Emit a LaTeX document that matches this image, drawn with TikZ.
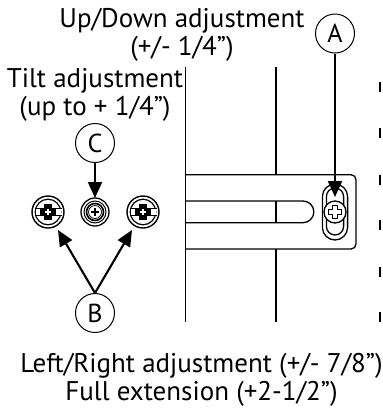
\documentclass[tikz,border=0pt]{standalone}
\usepackage{fontspec}
\setmainfont{PT Sans}
\usetikzlibrary{arrows.meta}
\tikzset{
  lbl/.style={inner sep=0pt,align=center,font=\fontsize{27}{28.5}\selectfont},
  callout/.style={circle,draw,line width=1pt,minimum size=39pt,inner sep=0pt,font=\fontsize{26}{27}\selectfont},
  lead/.style={line width=2.1pt,-{Triangle[length=16pt,width=14pt]},shorten >=0pt},
  part/.style={line width=1.3pt},
  tick/.style={line width=1.8pt},
}
\newcommand{\screwslot}[2]{%
  \begin{scope}[shift={(#1,#2)}]
    \draw[line width=1.4pt] (0,0) circle (16);
    \draw[line width=1.2pt] (0,0) circle (12.8);
    \fill[white] (-12.5,-3) rectangle (12.5,3);
    \draw[line width=1.5pt] (-13.5,-3.4) -- (13.5,-3.4) (-13.5,3.4) -- (13.5,3.4);
    \fill (-4,-8) rectangle (4,8);
    \fill (-8,-4) rectangle (8,4);
    \fill[white] (-1,-3) rectangle (1,3);
    \fill[white] (-3,-1) rectangle (3,1);
  \end{scope}}
\begin{document}
\begin{tikzpicture}[x=1pt,y=-1pt]
\useasboundingbox (0,0) rectangle (383,408);
\node[lbl] (t1) at (182,35) {Up/Down adjustment\\(+/- 1/4”)};
\node[lbl] (t2) at (95,95) {Tilt adjustment\\(up to + 1/4”)};
\node[lbl] (t3) at (201.5,380) {Left/Right adjustment (+/- 7/8”)\\Full extension (+2-1/2”)};
% posts
\draw[part] (185.7,67) -- (185.7,321.7);
\draw[part] (276,67) -- (276,174.7);
\draw[part] (276,201) -- (276,222.7);
\draw[part] (276,249) -- (276,321.7);
% bracket
\draw[part,rounded corners=5pt] (185.7,174.7) -- (356,174.7) -- (356,249) -- (185.7,249);
\draw[part] (185.7,201) -- (303,201) arc[start angle=-90,end angle=90,radius=10.85,y=-1pt] -- (185.7,222.7);
% adjustment slot
\draw[line width=1.3pt,rounded corners=12.6pt] (322.4,184) rectangle (347.6,240);
\draw[line width=1.3pt,rounded corners=8.6pt] (326.4,188) rectangle (343.6,235);
\draw[line width=1.3pt,fill=white] (335,212) circle (11);
\draw[line width=1.6pt,line join=round] (332.5,205.5) -- (337.5,205.5) -- (337.5,209.5) -- (341.5,209.5) -- (341.5,214.5) -- (337.5,214.5) -- (337.5,218.5) -- (332.5,218.5) -- (332.5,214.5) -- (328.5,214.5) -- (328.5,209.5) -- (332.5,209.5) -- cycle;
% screws
\screwslot{48}{212}
\screwslot{143}{212}
\draw[line width=1.3pt] (95,212) circle (14);
\draw[line width=1pt] (95,212) circle (11);
\draw[line width=1.6pt] (95,212) circle (8.5);
\draw[line width=0.7pt] (95,212) circle (6.5);
\draw[line width=1.2pt] (91,212) -- (99,212) (95,208) -- (95,216);
% callouts
\node[callout] (A) at (335,33.5) {A};
\node[callout] (C) at (95,143) {C};
\node[callout] (B) at (95,313) {B};
\coordinate (atip) at (335,197);
\coordinate (ctip) at (95,198);
\coordinate (bl) at (58,230);
\coordinate (br) at (132,230);
\draw[lead] (A) -- (atip);
\draw[lead] (C) -- (ctip);
\draw[lead] (B.north) -- (bl);
\draw[lead] (B.north) -- (br);
% ticks
\foreach \y in {82,128,175,220,267,312} \draw[tick] (380,\y) -- (380,\y+10);
\end{tikzpicture}
\end{document}
